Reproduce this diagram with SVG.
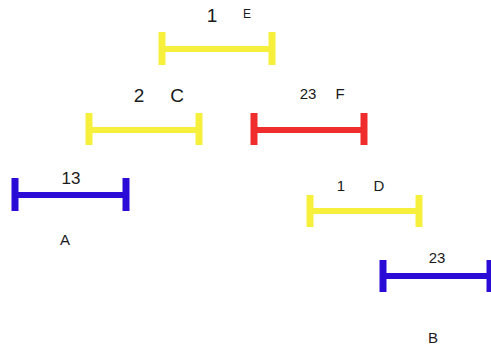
<svg xmlns="http://www.w3.org/2000/svg" width="491" height="349" viewBox="0 0 491 349">
<style>
.bar{stroke-width:6;fill:none}
.tick{stroke-width:7;fill:none}
.y{stroke:#f6f03c}
.r{stroke:#ef2d2d}
.b{stroke:#2a0cd6}
text{font-family:"Liberation Sans",Arial,sans-serif;fill:#1a1a1a;text-anchor:middle}
</style>
<rect width="491" height="349" fill="#ffffff"/>
<g id="connectors"></g>
<g id="E">
<line class="bar y" x1="162" y1="49" x2="272" y2="49"/>
<line class="tick y" x1="162" y1="32" x2="162" y2="65"/>
<line class="tick y" x1="272" y1="32" x2="272" y2="65"/>
<text x="212" y="22" font-size="19">1</text>
<text x="247" y="18" font-size="12">E</text>
</g>
<g id="C">
<line class="bar y" x1="89" y1="130" x2="199" y2="130"/>
<line class="tick y" x1="89" y1="113" x2="89" y2="145"/>
<line class="tick y" x1="199" y1="113" x2="199" y2="145"/>
<text x="139" y="102" font-size="19">2</text>
<text x="177" y="102" font-size="19">C</text>
</g>
<g id="F">
<line class="bar r" x1="254" y1="130" x2="364" y2="130"/>
<line class="tick r" x1="254" y1="113" x2="254" y2="145"/>
<line class="tick r" x1="364" y1="113" x2="364" y2="145"/>
<text x="308" y="99" font-size="15">23</text>
<text x="340" y="99" font-size="15">F</text>
</g>
<g id="A">
<line class="bar b" x1="15" y1="195" x2="126" y2="195"/>
<line class="tick b" x1="15" y1="178" x2="15" y2="211"/>
<line class="tick b" x1="126" y1="178" x2="126" y2="211"/>
<text x="71" y="184" font-size="17">13</text>
<text x="65" y="245" font-size="15">A</text>
</g>
<g id="D">
<line class="bar y" x1="310" y1="211" x2="419" y2="211"/>
<line class="tick y" x1="310" y1="195" x2="310" y2="227"/>
<line class="tick y" x1="419" y1="195" x2="419" y2="227"/>
<text x="341" y="191" font-size="15">1</text>
<text x="379" y="191" font-size="15">D</text>
</g>
<g id="B">
<line class="bar b" x1="383" y1="276" x2="490" y2="276"/>
<line class="tick b" x1="383" y1="260" x2="383" y2="292"/>
<line class="tick b" x1="490" y1="260" x2="490" y2="292"/>
<text x="437" y="263" font-size="15">23</text>
<text x="433" y="343" font-size="15">B</text>
</g>
</svg>
